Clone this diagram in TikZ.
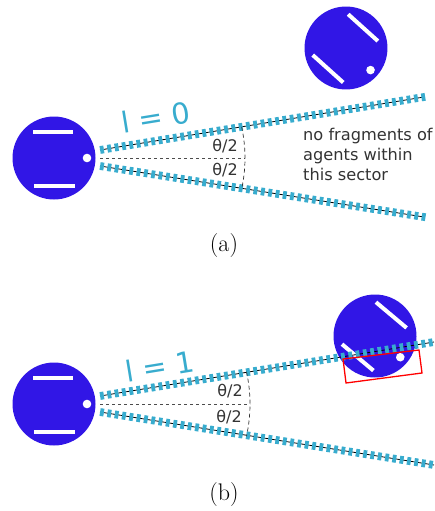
\documentclass[tikz,border=0pt]{standalone}
\usepackage{fontspec}
\usetikzlibrary{decorations.markings}
\newfontfamily\dejavu{DejaVu Sans}
\definecolor{robotblue}{RGB}{49,22,230}
\definecolor{raycyan}{RGB}{56,172,206}
\definecolor{txtgray}{RGB}{51,51,51}
\tikzset{
  robot/.pic={
    \fill[robotblue] (0,0) circle (41.5);
    \draw[white, line width=4] (-21,-26.5) -- (19,-26.5);
    \draw[white, line width=4] (-20,27.5) -- (21,27.5);
    \fill[white] (33,0) circle (4.3);
  },
  rayline/.style={draw=black, line width=0.8,
    postaction={decorate, decoration={markings,
      mark=between positions 2pt and 1 step 7.4pt with {\fill[raycyan] (-1.9pt,-3.9pt) rectangle (1.9pt,3.9pt);}}}},
  midline/.style={draw=black!70, dashed, line width=0.7},
  anglearc/.style={draw=black!80, dash pattern=on 4pt off 3pt, line width=0.7},
  halflabel/.style={font=\dejavu\fontsize{16}{18}\selectfont, text=txtgray, inner sep=0},
  lvl/.style={font=\dejavu\fontsize{29}{32}\selectfont, text=raycyan, inner sep=0, rotate=9.3},
  caption/.style={font=\fontsize{24}{28}\selectfont, inner sep=0},
  note/.style={font=\dejavu\fontsize{16.2}{20}\selectfont, text=txtgray, align=left, inner sep=0},
  fragbox/.style={draw=red, line width=1.3}
}
\begin{document}
\begin{tikzpicture}[x=1pt,y=-1pt]
\useasboundingbox (0,0) rectangle (434,511);
% ---------------- panel (a)
\pic at (54,158) {robot};
\pic[rotate=-42] at (346,48) {robot};
\coordinate (a1s) at (100,150); \coordinate (a1e) at (424,97);
\coordinate (a2s) at (100,166); \coordinate (a2e) at (424,217);
\coordinate (amid) at (100,158); \coordinate (amide) at (245,158);
\draw[rayline] (a1s) -- (a1e);
\draw[rayline] (a2s) -- (a2e);
\draw[midline] (amid) -- (amide);
\draw[anglearc] (amid) ++(-12.4:145) arc (-12.4:12.4:145);
\node[halflabel] (ath1) at (225,146) {θ/2};
\node[halflabel] (ath2) at (225,170) {θ/2};
\node[lvl] (al) at (156,117) {l = 0};
\node[note, anchor=north west] (anote) at (303,128) {no fragments of\\agents within\\this sector};
\node[caption] (acap) at (224,246) {(a)};
% ---------------- panel (b)
\pic at (54,404) {robot};
\pic[rotate=-40] at (375,336) {robot};
\coordinate (b1s) at (100,396); \coordinate (b1e) at (434,342);
\coordinate (b2s) at (100,412); \coordinate (b2e) at (434,465);
\coordinate (bmid) at (100,404); \coordinate (bmide) at (250,404);
\draw[rayline] (b1s) -- (b1e);
\draw[rayline] (b2s) -- (b2e);
\draw[midline] (bmid) -- (bmide);
\draw[anglearc] (bmid) ++(-12.4:150) arc (-12.4:12.4:150);
\node[halflabel] (bth1) at (230,391) {θ/2};
\node[halflabel] (bth2) at (229,417) {θ/2};
\node[lvl] (bl) at (160,366) {l = 1};
\coordinate (r1) at (343,359); \coordinate (r2) at (419,350);
\coordinate (r3) at (422,373); \coordinate (r4) at (346,383);
\draw[fragbox] (r1) -- (r2) -- (r3) -- (r4) -- cycle;
\node[caption] (bcap) at (224,495) {(b)};
\end{tikzpicture}
\end{document}
